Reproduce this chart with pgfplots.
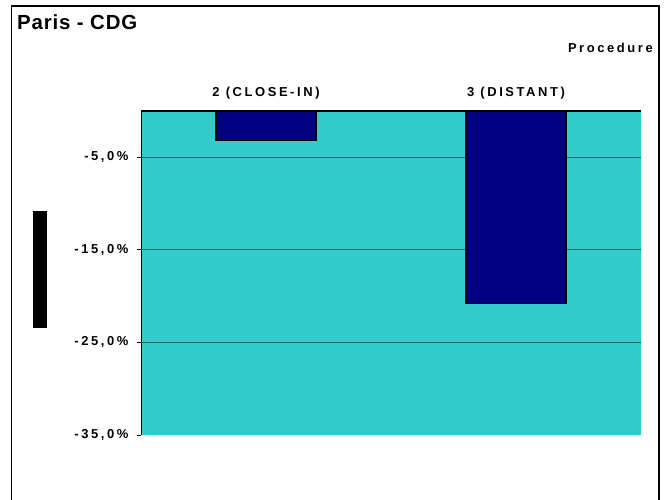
\documentclass[border=0pt]{standalone}
\usepackage{pgfplots}
\pgfplotsset{compat=1.18}
\usepackage{fontspec}
\setmainfont{Liberation Sans}
\newfontfamily\lsp{Liberation Sans}[LetterSpace=20]
\newfontfamily\tsp{Liberation Sans}[LetterSpace=4]
\definecolor{bgcyan}{HTML}{33CCCC}
\definecolor{barnavy}{HTML}{000080}
\definecolor{gridteal}{HTML}{006666}
\begin{document}
\begin{tikzpicture}
\useasboundingbox (0bp,0bp) rectangle (664bp,500bp);
\draw[line width=1.3bp] (11.5bp,-10bp) rectangle (659bp,494bp);
\node[anchor=base west, inner sep=0pt] at (17bp,470bp) {\tsp\bfseries\fontsize{20.5}{24}\selectfont Paris - CDG};
\node[anchor=base east, inner sep=0pt] at (653bp,447bp) {\lsp\bfseries\fontsize{13}{15}\selectfont Procedure};
\fill[black] (33bp,172bp) rectangle (47bp,289bp);
\begin{axis}[
  at={(141bp,65bp)}, anchor=south west,
  scale only axis, width=500bp, height=324bp,
  xmin=-0.5, xmax=1.5, ymin=-35, ymax=0,
  axis x line=top, axis y line=left,
  axis line style={-},
  x axis line style={line width=2.6bp, black},
  y axis line style={line width=0.8bp, black},
  axis background/.style={fill=bgcyan},
  xtick={0,1}, xticklabels={2 (CLOSE-IN), 3 (DISTANT)},
  major x tick style={draw=none},
  extra x ticks={-0.5,0.5,1.5}, extra x tick labels={},
  extra x tick style={major tick length=4bp, tick style={line width=1.8bp, black}, tick align=inside},
  xticklabel style={font=\lsp\bfseries\fontsize{13}{15}\selectfont, anchor=base, yshift=10bp},
  ytick={-35,-25,-15,-5},
  yticklabels={{-35,0\%},{-25,0\%},{-15,0\%},{-5,0\%}},
  yticklabel style={font=\lsp\bfseries\fontsize{13}{15}\selectfont, xshift=-5bp},
  /pgf/number format/assume math mode=true,
  major y tick style={line width=0.8bp, black},
  major tick length=4bp, tick align=outside,
  extra y ticks={-25,-15,-5}, extra y tick labels={},
  extra y tick style={grid=major, major grid style={gridteal, line width=0.9bp}},
  clip=false,
]
\addplot[ybar, bar width=0.4, fill=barnavy, draw=black, line width=1.2bp] coordinates {(0,-3.2) (1,-20.8)};
\draw[line width=2.6bp, black] (axis cs:-0.5,0) -- (axis cs:1.5,0);
\end{axis}
\end{tikzpicture}
\end{document}
